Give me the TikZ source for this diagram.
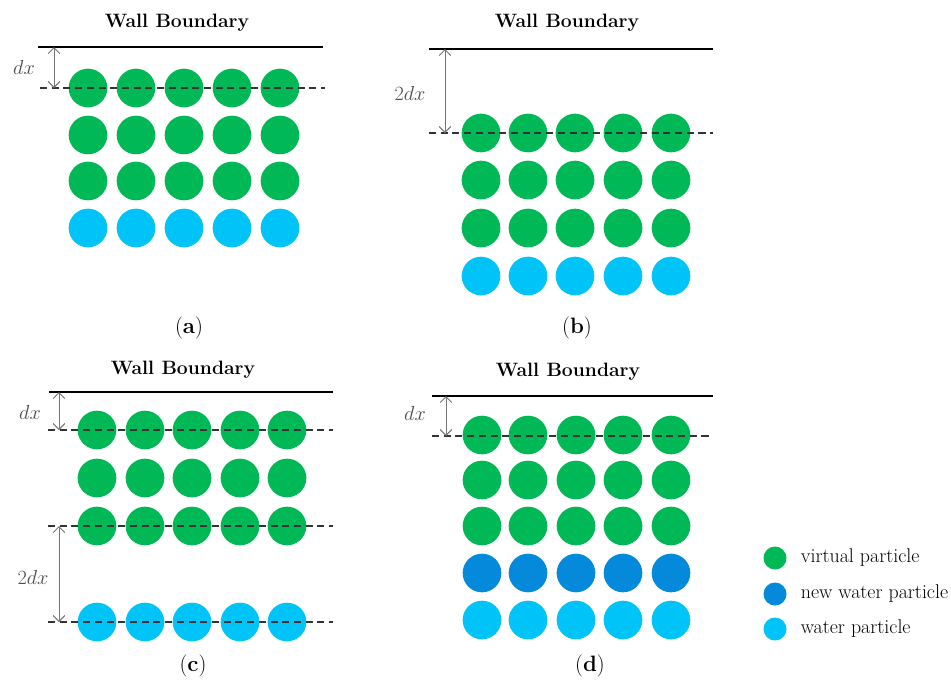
\documentclass[tikz,border=0pt]{standalone}
\usepackage{amsmath, amssymb}
\usepackage{pgf, tikz}
\usetikzlibrary{positioning, arrows.meta}
\definecolor{virtualgreen}{HTML}{00B855}
\definecolor{newblue}{HTML}{0589DB}
\definecolor{waterblue}{HTML}{00C4F8}
\tikzset{
    virtualnode/.style={
        circle,
        fill=virtualgreen, % virtual particle
        minimum size=1.16cm,
        inner sep=0
    },
    waternode/.style={
        circle,
        fill=waterblue, % water particle
        minimum size=1.16cm,
        inner sep=0
    },
    newwaternode/.style={
        circle,
        fill=newblue, % new water particle
        minimum size=1.16cm,
        inner sep=0
    },
    wallline/.style={
        line width=2pt
    },
    levelline/.style={
        dash pattern=on 6pt off 4pt,
        line width=1.1pt,
        black!80
    },
    gaparrow/.style={
        {Straight Barb[length=5pt,width=10pt]}-{Straight Barb[length=5pt,width=10pt]},
        gray!90!black,
        line width=0.8pt
    },
    titletext/.style={
        font=\fontsize{16.5}{19}\selectfont\bfseries
    },
    captiontext/.style={
        font=\fontsize{19}{22}\selectfont
    },
    gaptext/.style={
        font=\fontsize{17}{20}\selectfont,
        text=black!70
    },
    legendtext/.style={
        font=\fontsize{17}{20}\selectfont
    }
}

\begin{document}
\begin{tikzpicture}[x=0.03cm, y=-0.03cm]
    \useasboundingbox (0,0) rectangle (951,686);

    % (a)
    \node[titletext] (titleA) at (177,23) {Wall Boundary};
    \foreach \c/\x in {1/88,2/136,3/184,4/232,5/280} {
        \foreach \r/\y in {1/88,2/135,3/181} {
            \node[virtualnode] (a\r\c) at (\x,\y) {};
        }
        \node[waternode] (a4\c) at (\x,228) {};
    }
    \coordinate (wallAl) at (38,47);
    \coordinate (wallAr) at (323,47);
    \coordinate (levelAl) at (40,88);
    \coordinate (levelAr) at (325,88);
    \coordinate (tickAtop) at (54,47);
    \coordinate (tickAbot) at (54,88);
    \draw[wallline] (wallAl) -- (wallAr);
    \draw[levelline] (levelAl) -- (levelAr);
    \draw[gaparrow] (tickAtop) -- (tickAbot);
    \node[gaptext] (dxA) at (24,67) {$dx$};
    \node[captiontext] (capA) at (189,328) {(\textbf{a})};

    % (b)
    \node[titletext] (titleB) at (567,23) {Wall Boundary};
    \foreach \c/\x in {1/481,2/528,3/575,4/623,5/671} {
        \foreach \r/\y in {1/133,2/180,3/228} {
            \node[virtualnode] (b\r\c) at (\x,\y) {};
        }
        \node[waternode] (b4\c) at (\x,276) {};
    }
    \coordinate (wallBl) at (429,49);
    \coordinate (wallBr) at (713,49);
    \coordinate (levelBl) at (429,133);
    \coordinate (levelBr) at (713,133);
    \coordinate (tickBtop) at (445,49);
    \coordinate (tickBbot) at (445,133);
    \draw[wallline] (wallBl) -- (wallBr);
    \draw[levelline] (levelBl) -- (levelBr);
    \draw[gaparrow] (tickBtop) -- (tickBbot);
    \node[gaptext] (dxB) at (410,93) {$2dx$};
    \node[captiontext] (capB) at (577,328) {(\textbf{b})};

    % (c)
    \node[titletext] (titleC) at (183,370) {Wall Boundary};
    \foreach \c/\x in {1/97,2/145,3/192,4/240,5/287} {
        \foreach \r/\y in {1/430,2/478,3/526} {
            \node[virtualnode] (c\r\c) at (\x,\y) {};
        }
        \node[waternode] (c4\c) at (\x,622) {};
    }
    \coordinate (wallCl) at (49,392);
    \coordinate (wallCr) at (333,392);
    \coordinate (levelCl) at (48,430);
    \coordinate (levelCr) at (333,430);
    \coordinate (levelDl) at (48,526);
    \coordinate (levelDr) at (333,526);
    \coordinate (levelEl) at (48,622);
    \coordinate (levelEr) at (333,622);
    \coordinate (tickCtop) at (59,392);
    \coordinate (tickCmid) at (59,430);
    \coordinate (tickClow) at (59,526);
    \coordinate (tickCbot) at (59,622);
    \draw[wallline] (wallCl) -- (wallCr);
    \draw[levelline] (levelCl) -- (levelCr);
    \draw[levelline] (levelDl) -- (levelDr);
    \draw[levelline] (levelEl) -- (levelEr);
    \draw[gaparrow] (tickCtop) -- (tickCmid);
    \draw[gaparrow] (tickClow) -- (tickCbot);
    \node[gaptext] (dxC) at (30,412) {$dx$};
    \node[gaptext] (dxD) at (33,577) {$2dx$};
    \node[captiontext] (capC) at (193,666) {(\textbf{c})};

    % (d)
    \node[titletext] (titleD) at (568,372) {Wall Boundary};
    \foreach \c/\x in {1/482,2/528,3/576,4/623,5/671} {
        \foreach \r/\y in {1/435,2/480,3/526} {
            \node[virtualnode] (d\r\c) at (\x,\y) {};
        }
        \node[newwaternode] (d4\c) at (\x,573) {};
        \node[waternode] (d5\c) at (\x,620) {};
    }
    \coordinate (wallDl) at (432,396);
    \coordinate (wallDr) at (713,396);
    \coordinate (levelFl) at (432,436);
    \coordinate (levelFr) at (713,436);
    \coordinate (tickDtop) at (446,396);
    \coordinate (tickDbot) at (446,436);
    \draw[wallline] (wallDl) -- (wallDr);
    \draw[levelline] (levelFl) -- (levelFr);
    \draw[gaparrow] (tickDtop) -- (tickDbot);
    \node[gaptext] (dxE) at (415,413) {$dx$};
    \node[captiontext] (capD) at (590,666) {(\textbf{d})};

    % legend
    \node[virtualnode, minimum size=0.69cm] (keyVirtual) at (775,558) {};
    \node[newwaternode, minimum size=0.69cm] (keyNew) at (775,594) {};
    \node[waternode, minimum size=0.69cm] (keyWater) at (775,629) {};
    \node[legendtext, right=0.3cm of keyVirtual] {virtual particle};
    \node[legendtext, right=0.3cm of keyNew] {new water particle};
    \node[legendtext, right=0.3cm of keyWater] {water particle};
\end{tikzpicture}
\end{document}
